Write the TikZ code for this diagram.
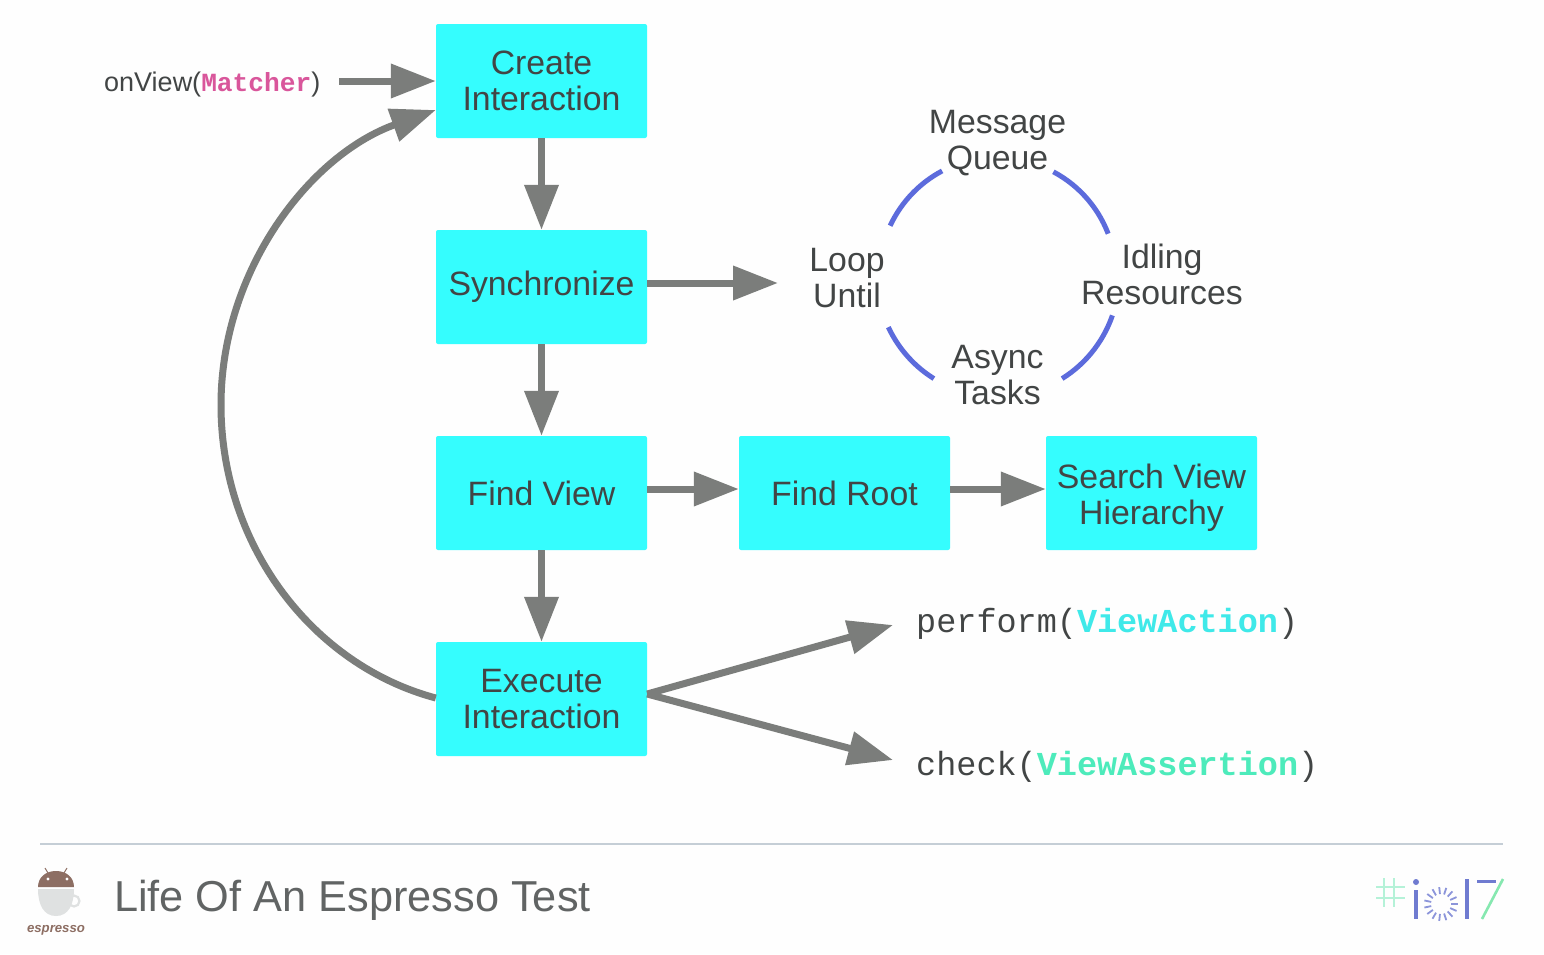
\documentclass[tikz,border=0pt]{standalone}
\usepackage{fontspec}
\setmainfont{Liberation Sans}
\setmonofont{Liberation Mono}
\usetikzlibrary{arrows.meta}
\definecolor{boxcyan}{HTML}{35FDFE}
\definecolor{arrowgray}{HTML}{7B7D7B}
\definecolor{inktext}{HTML}{424545}
\definecolor{ringblue}{HTML}{5C6BDC}
\definecolor{pinkcode}{HTML}{D9569B}
\definecolor{cyancode}{HTML}{3FE9E9}
\definecolor{mintcode}{HTML}{4DEBBB}
\definecolor{rulegray}{HTML}{C5CED6}
\definecolor{titlegray}{HTML}{616464}
\definecolor{brownlogo}{HTML}{8D6E63}
\definecolor{cupgray}{HTML}{DFE1E1}
\definecolor{iolilac}{HTML}{6F7BD0}
\definecolor{iomint}{HTML}{B5F2D8}
\definecolor{iogreen}{HTML}{86E8B0}
\tikzset{
  flowbox/.style={fill=boxcyan,draw=none,rounded corners=2pt,minimum width=211pt,minimum height=114pt,inner sep=0pt,
    text=inktext,align=center,font=\fontsize{33.8}{36}\selectfont},
  label/.style={text=inktext,align=center,inner sep=0pt,font=\fontsize{33.8}{36}\selectfont},
  conn/.style={draw=arrowgray,line width=7pt,-{Triangle[length=45pt,width=33pt]}},
  ringarc/.style={draw=ringblue,line width=5pt},
  codelabel/.style={text=inktext,inner sep=0pt,anchor=base west,font=\fontsize{33.5}{36}\selectfont\ttfamily},
}
\begin{document}
\begin{tikzpicture}[x=1pt,y=-1pt]
\useasboundingbox (0,0) rectangle (1544,954);
\fill[white!99.5!black] (0,0) rectangle (1544,954);
% boxes
\node[flowbox] (create) at (541.5,81) {Create\\Interaction};
\node[flowbox] (sync) at (541.5,287) {Synchronize};
\node[flowbox] (find) at (541.5,493) {Find View};
\node[flowbox] (exec) at (541.5,699) {Execute\\Interaction};
\node[flowbox] (root) at (844.5,493) {Find Root};
\node[flowbox] (search) at (1151.5,493) {\rule{0pt}{34pt}Search View\\Hierarchy};
% labels
\node[text=inktext,inner sep=0pt,anchor=base west,font=\fontsize{27}{30}\selectfont] (onview) at (104,91)
  {onView({\fontsize{26.2}{30}\selectfont\ttfamily\bfseries\color{pinkcode}Matcher})};
\node[label] (queue) at (997.5,143) {Message\\Queue};
\node[label] (loop) at (847,278) {Loop\\Until};
\node[label] (idle) at (1162,274) {Idling\\Resources};
\node[label] (async) at (997.5,375) {Async\\Tasks};
\node[codelabel] (perform) at (916,632) {perform({\bfseries\color{cyancode}ViewAction})};
\node[codelabel] (check) at (916,775) {check({\bfseries\color{mintcode}ViewAssertion})};
% free ends
\coordinate (onvend) at (339,81);
\coordinate (syncend) at (778,283);
\coordinate (perfend) at (893,625);
\coordinate (checkend) at (893,760);
\coordinate (leftmost) at (221,405);
% connectors
\draw[conn] (onvend) -- (create.west |- onvend);
\draw[conn] (create.south) -- (sync.north);
\draw[conn] (sync.south) -- (find.north);
\draw[conn] (find.south) -- (exec.north);
\draw[conn] ([yshift=4pt]sync.east) -- (syncend);
\draw[conn] ([yshift=4pt]find.east) -- ([yshift=4pt]root.west);
\draw[conn] ([yshift=4pt]root.east) -- ([yshift=4pt]search.west);
\draw[conn] ([yshift=5pt]exec.east) -- (perfend);
\draw[conn] ([yshift=5pt]exec.east) -- (checkend);
\draw[conn] ([yshift=1pt]exec.west) .. controls (312,665) and (221,545) .. (leftmost)
  .. controls (221,270) and (310,155) .. ([yshift=-29pt]create.west);
% ring
\draw[ringarc] plot[domain=205:242,samples=16] ({998+119*cos(\x)},{276+119*sin(\x)});
\draw[ringarc] plot[domain=298:339,samples=16] ({998+118*cos(\x)},{276+118*sin(\x)});
\draw[ringarc] plot[domain=19:58,samples=16] ({998+121*cos(\x)},{276+121*sin(\x)});
\draw[ringarc] plot[domain=122:155,samples=16] ({998+121*cos(\x)},{276+121*sin(\x)});
% footer
\draw[rulegray,line width=2pt] (40,844) -- (1503,844);
\node[text=titlegray,inner sep=0pt,anchor=base west,font=\fontsize{43.3}{46}\selectfont] (title) at (114,911) {Life Of An Espresso Test};
% espresso logo
\draw[cupgray,line width=2.2pt] (74,901) circle[radius=5.5];
\fill[cupgray] (38,889) -- (74,889) .. controls (74,905) and (68,916) .. (56,916) .. controls (44,916) and (38,905) .. (38,889) -- cycle;
\fill[brownlogo] (38,887) .. controls (38,877) and (46,871) .. (56,871) .. controls (66,871) and (74,877) .. (74,887) -- cycle;
\draw[brownlogo,line width=1pt] (48,873) -- (45,868) (64,873) -- (67,868);
\fill[white] (48,879) circle[radius=1.6] (67,879) circle[radius=1.6];
\node[text=brownlogo,inner sep=0pt,font=\fontsize{13.2}{16}\selectfont\bfseries\itshape] (esp) at (56,930) {espresso};
% io17 logo
\draw[iomint,line width=1.5pt] (1384,878) -- (1384,907) (1394,878) -- (1394,907) (1376,887) -- (1405,887) (1376,898) -- (1405,898);
\fill[iolilac] (1416,882) circle[radius=3];
\draw[iolilac,line width=3.2pt] (1416,890) -- (1416,919);
\draw[iolilac,line width=3.2pt] (1467,879) -- (1467,919);
\draw[iolilac,line width=3pt] (1477,881) -- (1496,881);
\draw[iogreen,line width=2.6pt] (1503,879) -- (1482,919);
\foreach \a in {0,24,...,336}
  \draw[iolilac!80,line width=1.8pt] ({1441+10*cos(\a)},{904+10*sin(\a)}) -- ({1441+17*cos(\a)},{904+17*sin(\a)});
\end{tikzpicture}
\end{document}
